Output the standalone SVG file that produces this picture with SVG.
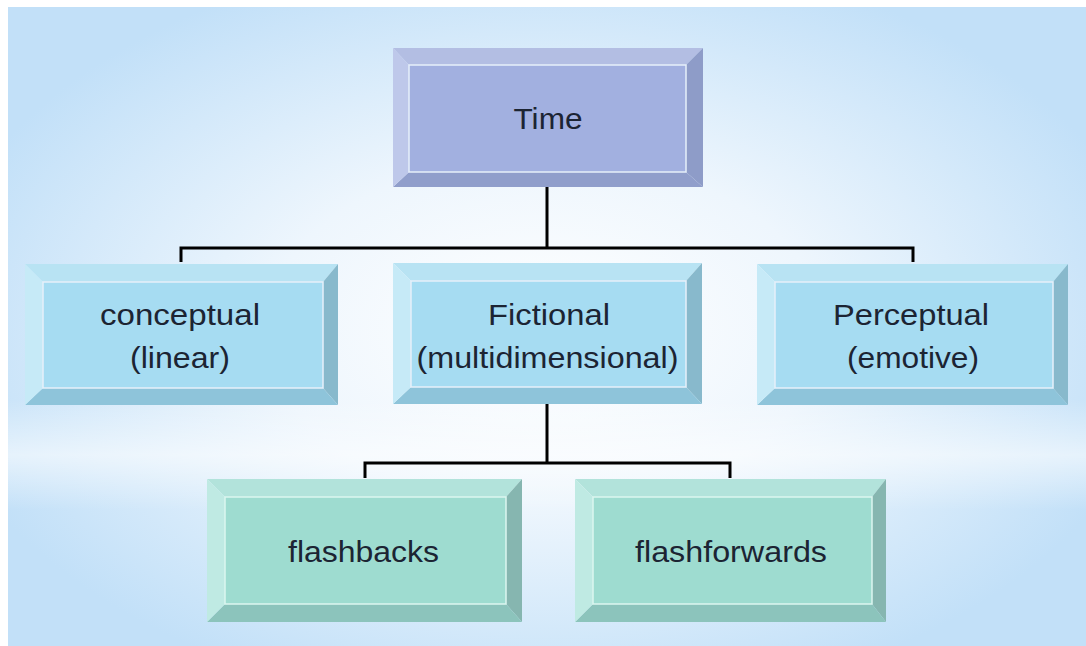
<svg xmlns="http://www.w3.org/2000/svg" width="1086" height="646" viewBox="0 0 1086 646">
<defs>
<radialGradient id="bgR" cx="545" cy="330" r="620" gradientUnits="userSpaceOnUse" gradientTransform="translate(545 330) scale(1 0.62) translate(-545 -330)">
<stop offset="0" stop-color="#ffffff"/>
<stop offset="0.45" stop-color="#eef6fd"/>
<stop offset="1" stop-color="#c2e0f8"/>
</radialGradient>
<linearGradient id="band" x1="0" y1="0" x2="0" y2="1">
<stop offset="0" stop-color="#ffffff" stop-opacity="0"/>
<stop offset="0.5" stop-color="#ffffff" stop-opacity="0.55"/>
<stop offset="1" stop-color="#ffffff" stop-opacity="0"/>
</linearGradient>
<style>
.t{font-family:"Liberation Sans",Arial,sans-serif;font-size:29px;fill:#1c2433;text-anchor:middle}
.conn{fill:none;stroke:#000;stroke-width:3}
.face{stroke:#e6f0fa;stroke-width:1.5}
.a .face{fill:#a2b0e0}.a .tp{fill:#b3bee3}.a .lf{fill:#bec8ea}.a .rt{fill:#8e9cc8}.a .bt{fill:#909ecb}
.b .face{fill:#a6dcf2}.b .tp{fill:#b8e3f3}.b .lf{fill:#c6eaf7}.b .rt{fill:#88b9cc}.b .bt{fill:#8ec4da}
.c .face{fill:#9edcd0;stroke:#dcf6f0}.c .tp{fill:#b2e3db}.c .lf{fill:#bfeae3}.c .rt{fill:#86b6b0}.c .bt{fill:#8cc4bc}
</style>
</defs>
<rect width="1086" height="646" fill="#ffffff"/>
<rect x="8" y="7" width="1078" height="639" fill="url(#bgR)"/>
<rect x="8" y="400" width="1078" height="110" fill="url(#band)"/>

<g id="connectors">
<path class="conn" d="M547,187 V248 M181,262 V248 H913 V262"/>
<path class="conn" d="M547,404 V463 M365,478 V463 H730 V478"/>
</g>

<g id="node-time" class="a">
<polygon class="tp" points="393,48 703,48 686,65 409,65"/>
<polygon class="rt" points="703,48 703,187 686,172 686,65"/>
<polygon class="bt" points="393,187 703,187 686,172 409,172"/>
<polygon class="lf" points="393,48 409,65 409,172 393,187"/>
<rect class="face" x="409" y="65" width="277" height="107"/>
<text class="t" x="548" y="129" font-size="32" textLength="69" lengthAdjust="spacingAndGlyphs">Time</text>
</g>

<g id="node-conceptual" class="b">
<polygon class="tp" points="25,264 338,264 323,282 43,282"/>
<polygon class="rt" points="338,264 338,405 323,388 323,282"/>
<polygon class="bt" points="25,405 338,405 323,388 43,388"/>
<polygon class="lf" points="25,264 43,282 43,388 25,405"/>
<rect class="face" x="43" y="282" width="280" height="106"/>
<text class="t" x="180" y="325" textLength="160" lengthAdjust="spacingAndGlyphs">conceptual</text>
<text class="t" x="180" y="368" textLength="100" lengthAdjust="spacingAndGlyphs">(linear)</text>
</g>

<g id="node-fictional" class="b">
<polygon class="tp" points="393,263 702,263 686,281 411,281"/>
<polygon class="rt" points="702,263 702,404 686,387 686,281"/>
<polygon class="bt" points="393,404 702,404 686,387 411,387"/>
<polygon class="lf" points="393,263 411,281 411,387 393,404"/>
<rect class="face" x="411" y="281" width="275" height="106"/>
<text class="t" x="549" y="325" textLength="122" lengthAdjust="spacingAndGlyphs">Fictional</text>
<text class="t" x="547.5" y="368" textLength="262" lengthAdjust="spacingAndGlyphs">(multidimensional)</text>
</g>

<g id="node-perceptual" class="b">
<polygon class="tp" points="757,264 1068,264 1053,282 775,282"/>
<polygon class="rt" points="1068,264 1068,405 1053,388 1053,282"/>
<polygon class="bt" points="757,405 1068,405 1053,388 775,388"/>
<polygon class="lf" points="757,264 775,282 775,388 757,405"/>
<rect class="face" x="775" y="282" width="278" height="106"/>
<text class="t" x="911" y="325" textLength="156" lengthAdjust="spacingAndGlyphs">Perceptual</text>
<text class="t" x="913" y="368" textLength="132" lengthAdjust="spacingAndGlyphs">(emotive)</text>
</g>

<g id="node-flashbacks" class="c">
<polygon class="tp" points="207,479 522,479 506,497 225,497"/>
<polygon class="rt" points="522,479 522,622 506,604 506,497"/>
<polygon class="bt" points="207,622 522,622 506,604 225,604"/>
<polygon class="lf" points="207,479 225,497 225,604 207,622"/>
<rect class="face" x="225" y="497" width="281" height="107"/>
<text class="t" x="363.5" y="562" textLength="151" lengthAdjust="spacingAndGlyphs">flashbacks</text>
</g>

<g id="node-flashforwards" class="c">
<polygon class="tp" points="575,479 886,479 872,497 593,497"/>
<polygon class="rt" points="886,479 886,622 872,604 872,497"/>
<polygon class="bt" points="575,622 886,622 872,604 593,604"/>
<polygon class="lf" points="575,479 593,497 593,604 575,622"/>
<rect class="face" x="593" y="497" width="279" height="107"/>
<text class="t" x="731" y="562" textLength="192" lengthAdjust="spacingAndGlyphs">flashforwards</text>
</g>
</svg>
